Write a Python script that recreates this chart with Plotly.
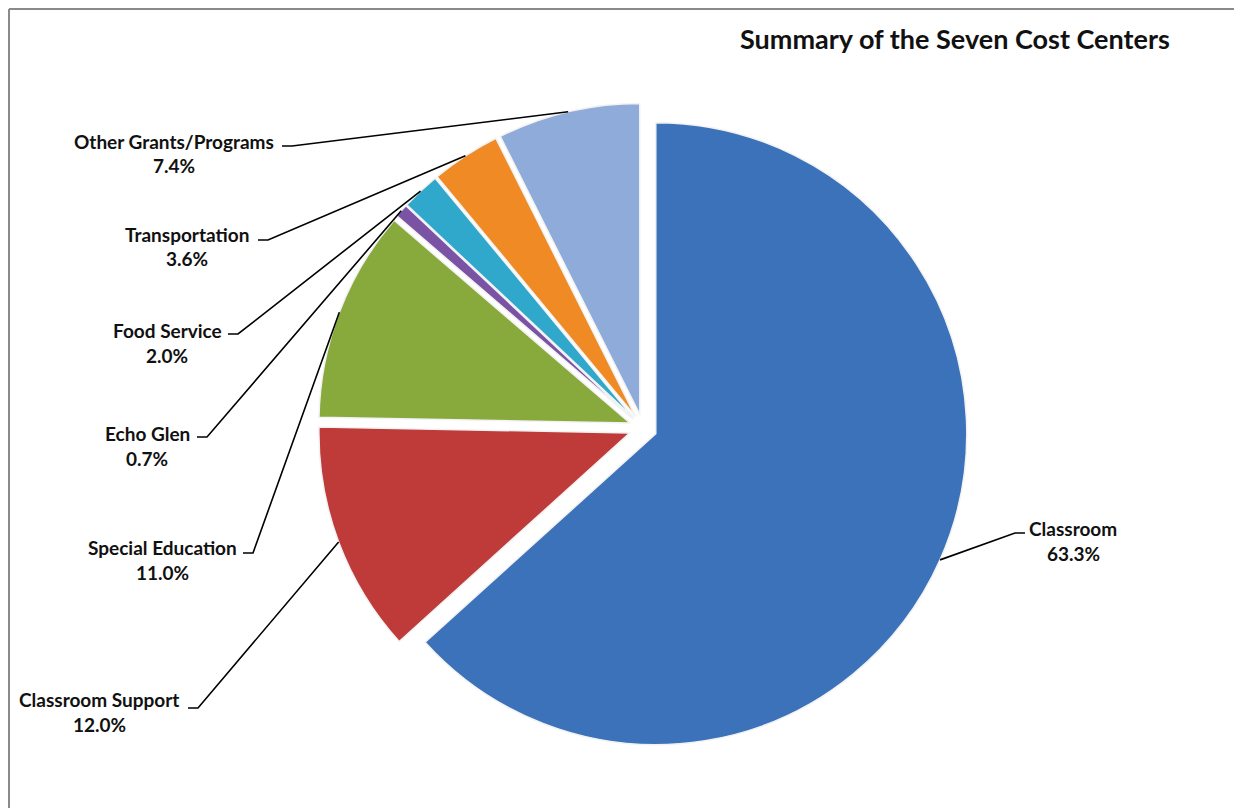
import math
import plotly.graph_objects as go

# ---- data ----
categories = ["Classroom", "Classroom Support", "Special Education", "Echo Glen",
              "Food Service", "Transportation", "Other Grants/Programs"]
shares = [63.3, 12.0, 11.0, 0.7, 2.0, 3.6, 7.4]
colors = ["#3C72BA", "#BF3B39", "#88AA3D", "#7A53A5", "#2FA8CB", "#EF8A25", "#8FABDA"]
title_text = "Summary of the Seven Cost Centers"

# ---- layout constants (pixels, in page coordinates) ----
W, H = 1242, 808
PAGE_OFF = 8               # default body margin of the html page
CX, CY = 643, 428          # pie centre
R = 311                    # pie radius
PULL = 0.045
S = 2 * R * (1 + PULL)     # square pie box side

# label centre (first line) and the start of the leader tick next to the text
label_pos = [(1073, 528), (99, 699), (162, 547), (147, 433), (167, 330), (187, 234), (174, 141)]
tick_start = [(1025, 533), (188, 708), (243, 553), (197, 437), (228, 334), (258, 240), (282, 146)]
tick_dir = [-1, 1, 1, 1, 1, 1, 1]
TICK_LEN = 10
LINE_GAP = 25
LABEL_FONT = dict(family="Lato", size=19, color="#111111")
TITLE_FONT = dict(family="Lato", size=27, color="#111111")

def px(x):
    return (x - PAGE_OFF) / W

def py(y):
    return 1 - (y - PAGE_OFF) / H

fig = go.Figure(go.Pie(
    labels=categories,
    values=shares,
    sort=False,
    direction="clockwise",
    rotation=0,
    pull=PULL,
    marker=dict(colors=colors, line=dict(color="#F2F2F2", width=1.5)),
    textinfo="none",
    hoverinfo="label+percent",
    showlegend=False,
    domain=dict(x=[px(CX - S / 2), px(CX + S / 2)],
                y=[py(CY + S / 2), py(CY - S / 2)]),
))

shapes = []
annotations = []
total = sum(shares)
cum = 0.0
for i, (cat, v) in enumerate(zip(categories, shares)):
    mid = (cum + v / 2) / total * 2 * math.pi
    cum += v
    dx, dy = math.sin(mid), -math.cos(mid)
    ex = CX + R * (1 + PULL) * dx
    ey = CY + R * (1 + PULL) * dy
    tx, ty = tick_start[i]
    tx2 = tx + tick_dir[i] * TICK_LEN
    path = f"M {px(tx)} {py(ty)} L {px(tx2)} {py(ty)} L {px(ex)} {py(ey)}"
    shapes.append(dict(type="path", xref="paper", yref="paper", path=path,
                       line=dict(color="black", width=1.6)))
    lx, ly = label_pos[i]
    annotations.append(dict(x=px(lx), y=py(ly), xref="paper", yref="paper",
                            text=f"<b>{cat}</b>", showarrow=False,
                            xanchor="center", yanchor="middle", font=LABEL_FONT))
    annotations.append(dict(x=px(lx), y=py(ly + LINE_GAP), xref="paper", yref="paper",
                            text=f"<b>{v:.1f}%</b>", showarrow=False,
                            xanchor="center", yanchor="middle", font=LABEL_FONT))

annotations.append(dict(x=px(955), y=py(38), xref="paper", yref="paper",
                        text=f"<b>{title_text}</b>", showarrow=False,
                        xanchor="center", yanchor="middle", font=TITLE_FONT))

# frame lines (top and left)
shapes.append(dict(type="line", xref="paper", yref="paper", x0=px(9), x1=1, y0=py(9), y1=py(9),
                   line=dict(color="#8A8A8A", width=2)))
shapes.append(dict(type="line", xref="paper", yref="paper", x0=px(9), x1=px(9), y0=py(9), y1=0,
                   line=dict(color="#8A8A8A", width=2)))

fig.update_layout(
    width=W, height=H,
    margin=dict(l=0, r=0, t=0, b=0),
    paper_bgcolor="white",
    plot_bgcolor="white",
    shapes=shapes,
    annotations=annotations,
)

fig.write_html("out.html")
